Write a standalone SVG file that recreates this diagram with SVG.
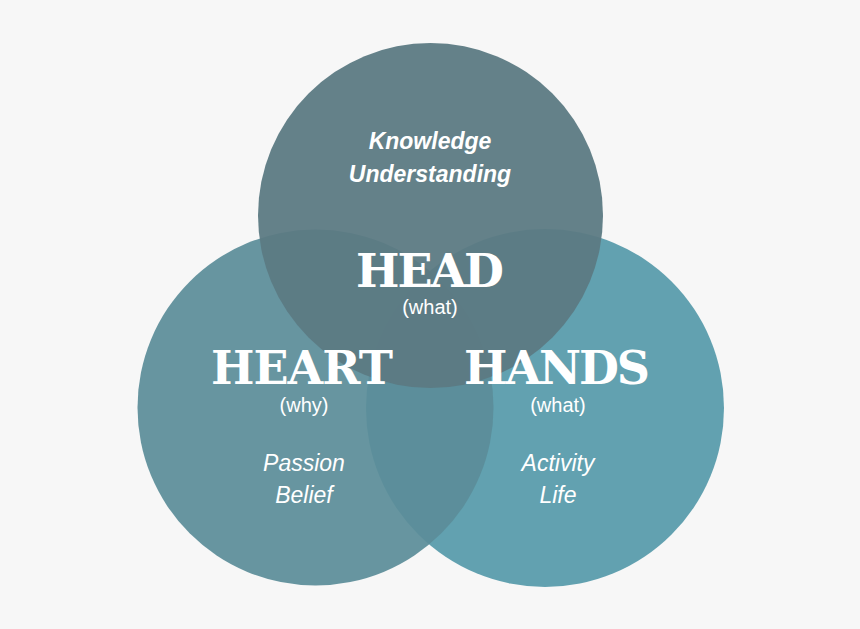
<svg xmlns="http://www.w3.org/2000/svg" width="860" height="629" viewBox="0 0 860 629">
<style>
.big{font-family:"DejaVu Serif",serif;font-size:46px;font-weight:bold;fill:#fff;text-anchor:middle}
.sub{font-family:"Liberation Sans",sans-serif;font-size:20px;fill:#fff;text-anchor:middle}
.it{font-family:"Liberation Sans",sans-serif;font-size:23px;font-style:italic;fill:#fff;text-anchor:middle}
.bi{font-family:"Liberation Sans",sans-serif;font-size:23px;font-style:italic;font-weight:bold;fill:#fff;text-anchor:middle}
</style>
<rect width="860" height="629" fill="#f7f7f7"/>
<g id="hands"><circle cx="545" cy="408" r="179" fill="#62a1b0"/></g>
<g id="heart"><circle cx="315.5" cy="407.5" r="178" fill="#5b8d99" fill-opacity="0.93"/></g>
<g id="head"><circle cx="430.5" cy="215.5" r="172.5" fill="#5c7a83" fill-opacity="0.95"/></g>
<g id="labels">
<text class="bi" x="430" y="149">Knowledge</text>
<text class="bi" x="430" y="182">Understanding</text>
<text class="big" x="430" y="287" textLength="148">HEAD</text>
<text class="sub" x="430" y="314">(what)</text>
<text class="big" x="302" y="384" textLength="182">HEART</text>
<text class="sub" x="304" y="412">(why)</text>
<text class="big" x="557" y="384" textLength="186">HANDS</text>
<text class="sub" x="558" y="412">(what)</text>
<text class="it" x="304" y="471">Passion</text>
<text class="it" x="304" y="503">Belief</text>
<text class="it" x="558" y="471">Activity</text>
<text class="it" x="558" y="503">Life</text>
</g>
<g id="connectors"/>
</svg>
